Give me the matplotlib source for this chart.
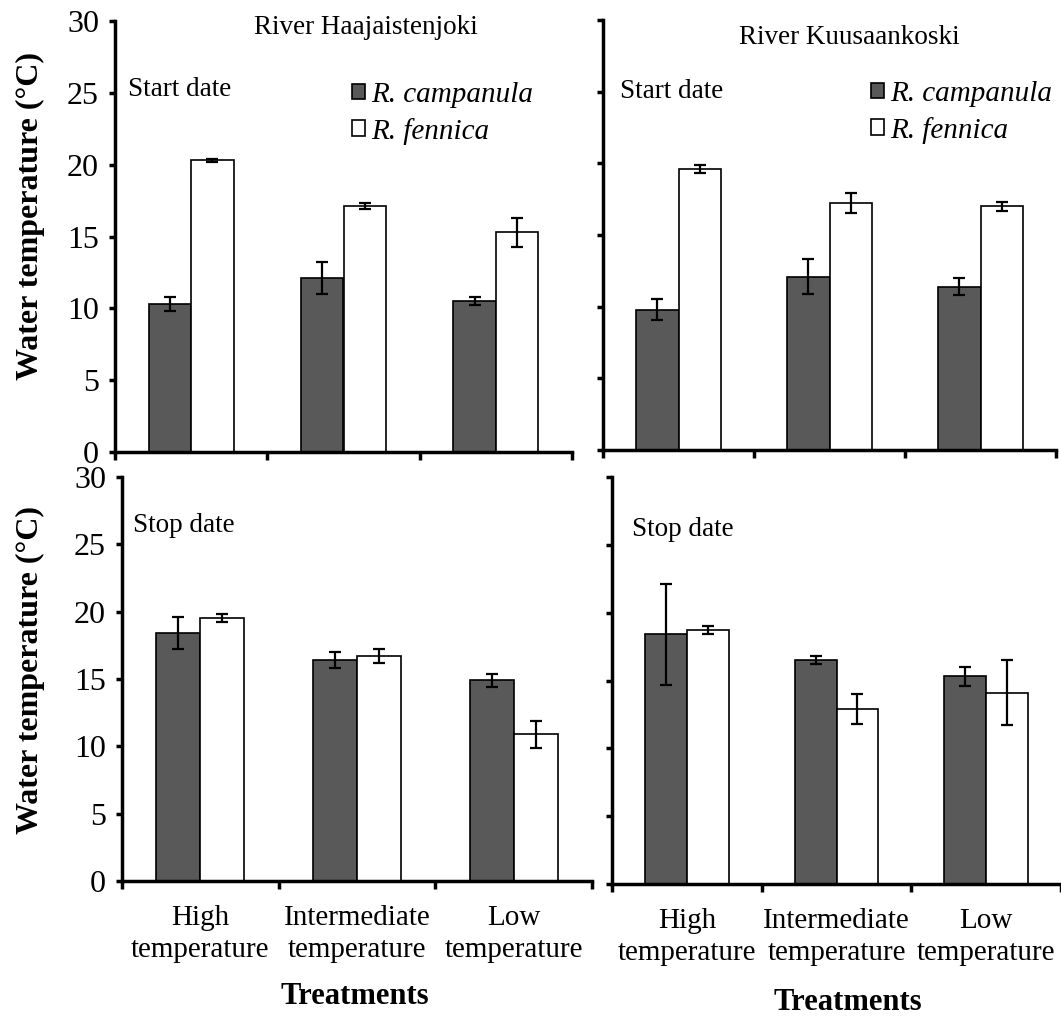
import matplotlib
matplotlib.use("Agg")
import matplotlib.pyplot as plt
import numpy as np

plt.rcParams['font.family'] = ['Liberation Serif', 'DejaVu Serif']

categories = ["High\ntemperature", "Intermediate\ntemperature", "Low\ntemperature"]
series_names = ["R. campanula", "R. fennica"]

# River Haajaistenjoki, start date
haa_start_camp = [10.3, 12.1, 10.5]
haa_start_camp_err = [0.5, 1.1, 0.3]
haa_start_fen = [20.3, 17.1, 15.3]
haa_start_fen_err = [0.1, 0.2, 1.0]
# River Kuusaankoski, start date
kuu_start_camp = [9.8, 12.1, 11.4]
kuu_start_camp_err = [0.7, 1.2, 0.6]
kuu_start_fen = [19.6, 17.2, 17.0]
kuu_start_fen_err = [0.3, 0.7, 0.3]
# River Haajaistenjoki, stop date
haa_stop_camp = [18.4, 16.4, 14.9]
haa_stop_camp_err = [1.2, 0.6, 0.5]
haa_stop_fen = [19.5, 16.7, 10.9]
haa_stop_fen_err = [0.3, 0.5, 1.0]
# River Kuusaankoski, stop date
kuu_stop_camp = [18.4, 16.5, 15.3]
kuu_stop_camp_err = [3.7, 0.3, 0.7]
kuu_stop_fen = [18.7, 12.9, 14.1]
kuu_stop_fen_err = [0.3, 1.1, 2.4]

yticks = [0, 5, 10, 15, 20, 25, 30]

W, H = 1061, 1019
fig = plt.figure(figsize=(W / 100, H / 100), dpi=100)

def rect(x0, x1, ytop, ybot):
    return [x0 / W, (H - ybot) / H, (x1 - x0) / W, (ybot - ytop) / H]

ax_tl = fig.add_axes(rect(115, 572, 21, 452))
ax_tr = fig.add_axes(rect(603, 1056, 20, 450))
ax_bl = fig.add_axes(rect(122, 592, 477, 881))
ax_br = fig.add_axes(rect(612, 1061, 477, 884))

DARK = "#595959"
FS = 19.5
bw = 0.28
x = np.arange(len(categories))

def draw(ax, camp, camp_err, fen, fen_err, show_y, show_x):
    b1 = ax.bar(x - bw / 2, camp, bw, color=DARK, edgecolor="black", linewidth=1.2, zorder=2)
    b2 = ax.bar(x + bw / 2, fen, bw, color="white", edgecolor="black", linewidth=1.2, zorder=2)
    ax.errorbar(x - bw / 2, camp, yerr=camp_err, fmt="none", ecolor="black",
                elinewidth=1.6, capsize=4, capthick=1.6, zorder=3)
    ax.errorbar(x + bw / 2, fen, yerr=fen_err, fmt="none", ecolor="black",
                elinewidth=1.6, capsize=4, capthick=1.6, zorder=3)
    ax.set_xlim(-0.5, 2.5)
    ax.set_ylim(0, 30)
    ax.set_yticks(yticks)
    for s in ["top", "right"]:
        ax.spines[s].set_visible(False)
    for s in ["left", "bottom"]:
        ax.spines[s].set_linewidth(2.5)
    ax.tick_params(axis="y", direction="out", length=4.5, width=2.5, labelsize=23, pad=7)
    if not show_y:
        ax.set_yticklabels([])
    ax.set_xticks([-0.5, 0.5, 1.5, 2.5])
    ax.set_xticklabels([])
    ax.tick_params(axis="x", which="major", direction="out", length=5.5, width=2.5)
    if show_x:
        ax.set_xticks(x, minor=True)
        ax.set_xticklabels(categories, minor=True, fontsize=21, linespacing=1.33)
        ax.tick_params(axis="x", which="minor", length=0, pad=17)
    return b1, b2

b1, b2 = draw(ax_tl, haa_start_camp, haa_start_camp_err, haa_start_fen, haa_start_fen_err, True, False)
draw(ax_tr, kuu_start_camp, kuu_start_camp_err, kuu_start_fen, kuu_start_fen_err, False, False)
draw(ax_bl, haa_stop_camp, haa_stop_camp_err, haa_stop_fen, haa_stop_fen_err, True, True)
draw(ax_br, kuu_stop_camp, kuu_stop_camp_err, kuu_stop_fen, kuu_stop_fen_err, False, True)

def ftext(px, py, s, **kw):
    fig.text(px / W, 1 - py / H, s, **kw)

ftext(366, 27, "River Haajaistenjoki", fontsize=FS, ha="center", va="center")
ftext(849, 38, "River Kuusaankoski", fontsize=FS, ha="center", va="center")
ftext(128, 90, "Start date", fontsize=FS, ha="left", va="center")
ftext(620, 92, "Start date", fontsize=FS, ha="left", va="center")
ftext(133, 525, "Stop date", fontsize=FS, ha="left", va="center")
ftext(632, 530, "Stop date", fontsize=FS, ha="left", va="center")

ftext(30, 216, "Water temperature (°C)", fontsize=23, fontweight="bold",
      rotation=90, ha="center", va="center")
ftext(30, 670, "Water temperature (°C)", fontsize=23, fontweight="bold",
      rotation=90, ha="center", va="center")
ftext(355, 996, "Treatments", fontsize=22, fontweight="bold", ha="center", va="center")
ftext(848, 1003, "Treatments", fontsize=22, fontweight="bold", ha="center", va="center")

for ax, (lx, ly) in [(ax_tl, (352, 82)), (ax_tr, (871, 81))]:
    ax.legend([b1, b2], series_names, loc="upper left",
              bbox_to_anchor=(lx / W, 1 - ly / H), bbox_transform=fig.transFigure,
              frameon=False, prop={"family": "Liberation Serif", "style": "italic", "size": 21},
              handlelength=0.45, handleheight=0.45, handletextpad=0.2,
              labelspacing=0.33, borderpad=0, borderaxespad=0)

fig.savefig("out.png", dpi=100)
